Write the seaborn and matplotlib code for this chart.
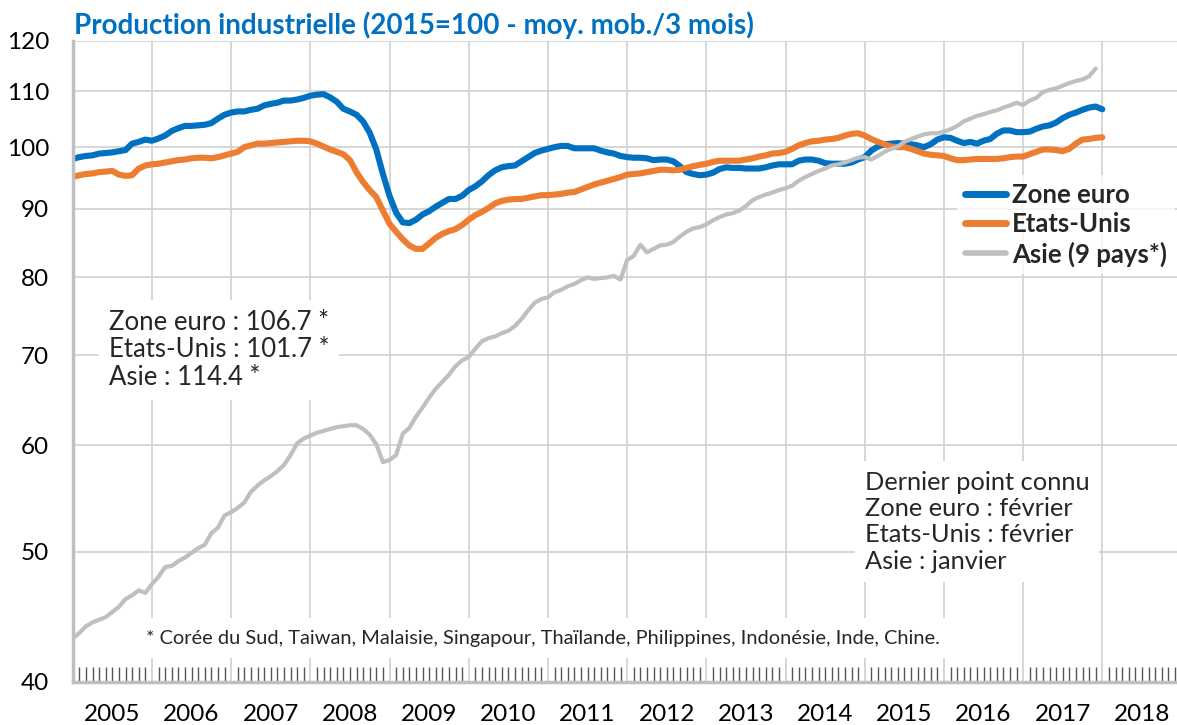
import numpy as np
import pandas as pd
import matplotlib
matplotlib.use("Agg")
import matplotlib.pyplot as plt
import seaborn as sns
from matplotlib.ticker import MultipleLocator, NullLocator, FuncFormatter

# production industrielle, moyenne mobile 3 mois, base 2015=100 (mensuel, depuis 2005)
zone_euro = [
    98.0, 98.3, 98.5, 98.6, 98.9, 99.0, 99.1, 99.3, 99.5, 100.6, 100.9, 101.3,
    101.1, 101.5, 102.0, 102.8, 103.3, 103.7, 103.7, 103.8, 103.9, 104.2, 105.0, 105.7,
    106.1, 106.3, 106.3, 106.6, 106.8, 107.4, 107.7, 107.9, 108.3, 108.3, 108.5, 108.8,
    109.2, 109.4, 109.5, 108.9, 108.1, 106.8, 106.3, 105.7, 104.5, 102.5, 99.6, 95.5,
    92.0, 89.4, 87.9, 87.8, 88.3, 89.1, 89.6, 90.3, 90.9, 91.5, 91.5, 92.0,
    92.9, 93.5, 94.3, 95.3, 96.1, 96.6, 96.8, 96.9, 97.6, 98.3, 99.0, 99.4,
    99.7, 100.0, 100.2, 100.2, 99.8, 99.8, 99.8, 99.8, 99.4, 99.1, 98.9, 98.5,
    98.3, 98.2, 98.2, 98.1, 97.8, 97.9, 97.9, 97.6, 96.8, 95.8, 95.5, 95.3,
    95.4, 95.7, 96.3, 96.6, 96.5, 96.5, 96.4, 96.4, 96.4, 96.6, 96.9, 97.1,
    97.1, 97.1, 97.7, 97.9, 97.9, 97.7, 97.3, 97.2, 97.2, 97.2, 97.4, 97.9,
    98.3, 99.4, 100.1, 100.5, 100.6, 100.7, 100.6, 100.5, 100.3, 100.0, 100.5, 101.3,
    101.7, 101.6, 101.1, 100.7, 100.9, 100.6, 101.1, 101.4, 102.3, 102.9, 102.9, 102.6,
    102.6, 102.7, 103.2, 103.6, 103.8, 104.3, 105.1, 105.7, 106.1, 106.6, 107.0, 107.2,
    106.7,
]
etats_unis = [
    95.0, 95.3, 95.5, 95.6, 95.8, 95.9, 96.0, 95.4, 95.2, 95.3, 96.4, 96.9,
    97.1, 97.2, 97.4, 97.6, 97.8, 97.9, 98.1, 98.2, 98.2, 98.1, 98.3, 98.6,
    98.9, 99.2, 100.0, 100.3, 100.6, 100.6, 100.7, 100.8, 100.9, 101.0, 101.1, 101.1,
    101.0, 100.6, 100.1, 99.6, 99.2, 98.8, 97.8, 95.8, 94.2, 92.9, 91.8, 89.7,
    87.7, 86.5, 85.4, 84.5, 84.0, 84.0, 84.8, 85.6, 86.2, 86.6, 86.9, 87.5,
    88.3, 89.0, 89.5, 90.1, 90.8, 91.2, 91.4, 91.5, 91.5, 91.7, 91.9, 92.1,
    92.1, 92.2, 92.3, 92.5, 92.6, 93.0, 93.4, 93.8, 94.1, 94.4, 94.7, 95.0,
    95.4, 95.5, 95.6, 95.8, 96.0, 96.2, 96.2, 96.1, 96.2, 96.5, 96.8, 97.0,
    97.2, 97.5, 97.7, 97.7, 97.7, 97.7, 97.9, 98.1, 98.4, 98.6, 98.9, 99.0,
    99.2, 99.7, 100.3, 100.7, 101.0, 101.1, 101.3, 101.4, 101.6, 102.0, 102.3, 102.4,
    102.0, 101.4, 100.9, 100.5, 100.1, 100.0, 100.0, 99.7, 99.3, 98.9, 98.7, 98.6,
    98.5, 98.1, 97.8, 97.8, 97.9, 98.0, 98.0, 98.0, 98.0, 98.1, 98.3, 98.4,
    98.4, 98.8, 99.2, 99.6, 99.6, 99.5, 99.3, 99.7, 100.6, 101.3, 101.4, 101.6,
    101.7,
]
asie = [
    43.1, 43.5, 44.0, 44.3, 44.5, 44.7, 45.1, 45.5, 46.1, 46.4, 46.8, 46.6,
    47.3, 47.9, 48.7, 48.8, 49.2, 49.5, 49.9, 50.3, 50.6, 51.6, 52.1, 53.2,
    53.5, 53.9, 54.4, 55.4, 56.0, 56.5, 56.9, 57.4, 58.0, 59.0, 60.2, 60.7,
    61.0, 61.3, 61.5, 61.7, 61.9, 62.0, 62.1, 62.1, 61.7, 61.1, 60.1, 58.3,
    58.5, 59.0, 61.2, 61.8, 63.0, 64.0, 65.1, 66.1, 66.9, 67.7, 68.7, 69.4,
    69.8, 70.8, 71.7, 72.1, 72.3, 72.7, 73.0, 73.6, 74.5, 75.6, 76.6, 77.1,
    77.3, 78.0, 78.3, 78.8, 79.1, 79.6, 80.0, 79.8, 79.9, 80.0, 80.2, 79.7,
    82.4, 83.0, 84.6, 83.5, 84.0, 84.5, 84.6, 85.0, 85.8, 86.5, 87.0, 87.2,
    87.6, 88.2, 88.7, 89.1, 89.3, 89.7, 90.4, 91.3, 91.8, 92.2, 92.5, 92.9,
    93.2, 93.6, 94.4, 95.0, 95.5, 96.0, 96.4, 96.9, 97.1, 97.4, 97.8, 98.2,
    98.3, 97.9, 98.5, 99.2, 99.7, 100.1, 100.9, 101.4, 101.8, 102.2, 102.4, 102.4,
    102.7, 103.1, 103.7, 104.5, 105.0, 105.5, 105.8, 106.2, 106.5, 107.0, 107.4, 107.9,
    107.5, 108.3, 108.8, 109.9, 110.3, 110.6, 111.1, 111.6, 112.0, 112.3, 112.9, 114.4,
]

series_names = ["Zone euro", "Etats-Unis", "Asie (9 pays*)"]
couleurs = ["#0070C0", "#ED7D31", "#BFBFBF"]
annees = list(range(2005, 2019))
y_ticks = [40, 50, 60, 70, 80, 90, 100, 110, 120]

titre = "Production industrielle (2015=100 - moy. mob./3 mois)"
txt_derniers = "Zone euro : 106.7 *\nEtats-Unis : 101.7 *\nAsie : 114.4 *"
txt_connu = "Dernier point connu\nZone euro : février\nEtats-Unis : février\nAsie : janvier"
txt_note = ("* Corée du Sud, Taiwan, Malaisie, Singapour, Thaïlande, Philippines, "
            "Indonésie, Inde, Chine.")

# format long pour seaborn
frames = []
for nom, vals in zip(series_names, [zone_euro, etats_unis, asie]):
    frames.append(pd.DataFrame({
        "x": 2005 + np.arange(len(vals)) / 12,
        "valeur": vals,
        "serie": nom,
    }))
df = pd.concat(frames, ignore_index=True)

sns.set_theme(style="white")
plt.rcParams["font.family"] = ["Lato", "DejaVu Sans"]

W, H = 1177, 725
fig = plt.figure(figsize=(W / 100, H / 100), dpi=100)
left, right, top, bottom = 72.7, 1177, 40.7, 682
ax = fig.add_axes([left / W, 1 - bottom / H, (right - left) / W, (bottom - top) / H])

sns.lineplot(data=df, x="x", y="valeur", hue="serie", hue_order=series_names,
             palette=couleurs, linewidth=4, ax=ax)
for ln, lw in zip(ax.get_lines(), [4.4, 4.4, 3.0]):
    ln.set_linewidth(lw)
    ln.set_solid_capstyle("round")

ax.set_yscale("log")
ax.set_ylim(40, 120)
ax.set_yticks(y_ticks)
ax.yaxis.set_major_formatter(FuncFormatter(lambda v, p: f"{v:.0f}"))
ax.yaxis.set_minor_locator(NullLocator())

ax.set_xlim(2005, 2005 + (right - left) / 79.2)
ax.set_xticks(annees)
ax.set_xticklabels([])
ax.xaxis.set_minor_locator(MultipleLocator(1 / 12))

ax.set_axisbelow(True)
ax.grid(True, which="major", color="#D0D0D0", linewidth=1.2)
ax.tick_params(axis="y", which="major", direction="out", length=7, width=1.2,
               color="#BFBFBF", pad=10, labelsize=17.5, labelcolor="#000000")
ax.tick_params(axis="x", which="major", direction="out", length=28, width=1,
               color="#D0D0D0")
ax.tick_params(axis="x", which="minor", direction="in", length=11, width=1,
               color="#555555", bottom=True)

for s in ["top", "right"]:
    ax.spines[s].set_visible(False)
for s in ["left", "bottom"]:
    ax.spines[s].set_color("#BFBFBF")
    ax.spines[s].set_linewidth(2.5)

ax.set_xlabel("")
ax.set_ylabel("")

# libellés des années au milieu de chaque année
sec = ax.secondary_xaxis("bottom")
sec.set_xticks([a + 0.5 for a in annees], labels=[str(a) for a in annees])
sec.tick_params(length=0, pad=16, labelsize=17.5, labelcolor="#000000")
sec.spines["bottom"].set_visible(False)

fig.text(left / W + 0.001, 1 - 25 / H, titre, color="#0070C0", fontsize=20,
         fontweight="bold", va="center", ha="left")

boite = dict(facecolor="white", edgecolor="none", pad=7)
ax.text(0.033, 0.518, txt_derniers, transform=ax.transAxes, fontsize=18.5,
        va="center", ha="left", linespacing=1.13, bbox=boite)
ax.text(0.7175, 0.250, txt_connu, transform=ax.transAxes, fontsize=18.3,
        va="center", ha="left", linespacing=1.18, bbox=boite)
ax.text(0.0661, 0.0686, txt_note, transform=ax.transAxes, fontsize=14.4,
        va="center", ha="left", bbox=dict(facecolor="white", edgecolor="none", pad=8))

leg = ax.legend(loc="upper right", bbox_to_anchor=(0.998, 0.79), frameon=True,
                fontsize=18.5, handlelength=1.6, handletextpad=0.25,
                labelspacing=0.2, borderpad=0.3, borderaxespad=0)
leg.get_frame().set_facecolor("white")
leg.get_frame().set_edgecolor("none")
leg.get_frame().set_boxstyle("square", pad=0)
for h, lw in zip(leg.get_lines(), [5, 5, 4]):
    h.set_linewidth(lw)
for t in leg.get_texts():
    t.set_fontweight("bold")

fig.savefig("out.png", dpi=100)
